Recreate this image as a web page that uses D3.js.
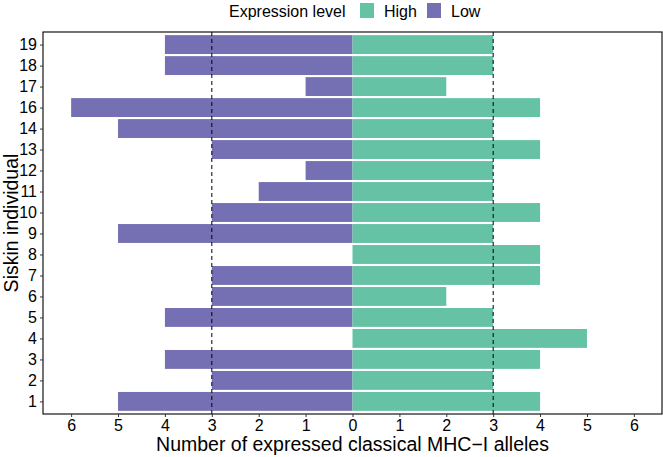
<!DOCTYPE html>
<html><head><meta charset="utf-8">
<script src="https://cdn.jsdelivr.net/npm/d3@7"></script>
<style>body{margin:0;background:#fff;} text{font-family:"Liberation Sans",Arial,sans-serif;}</style>
</head><body>
<svg id="chart" width="663" height="457"></svg>
<script>
const individuals = ["1","2","3","4","5","6","7","8","9","10","11","12","13","14","16","17","18","19"];
const highValues = [4,3,4,5,3,2,4,4,3,4,3,3,4,3,4,2,3,3];
const lowValues  = [5,3,4,0,4,3,3,0,5,3,2,1,3,5,6,1,4,4];
const xTicks = [-6,-5,-4,-3,-2,-1,0,1,2,3,4,5,6];
const refLines = [-3,3];
const seriesNames = ["High","Low"];
const seriesColors = ["#66C2A5","#7570B3"];

const svg = d3.select("#chart");
const L = 43, R = 662, T = 32, B = 414;
const x = d3.scaleLinear().domain([-6.6,6.6]).range([L,R]);
const y = d3.scalePoint().domain(individuals).range([B,T]).padding(0.6);
const step = y.step();
const bh = step*0.9;

const g = svg.append("g");
individuals.forEach((id,i)=>{
  const cy = y(id);
  if (lowValues[i] > 0) g.append("rect").attr("x", x(-lowValues[i])).attr("width", x(0)-x(-lowValues[i]))
    .attr("y", cy-bh/2).attr("height", bh).attr("fill", seriesColors[1]);
  if (highValues[i] > 0) g.append("rect").attr("x", x(0)).attr("width", x(highValues[i])-x(0))
    .attr("y", cy-bh/2).attr("height", bh).attr("fill", seriesColors[0]);
});
refLines.forEach(v=>{
  g.append("line").attr("x1",x(v)).attr("x2",x(v)).attr("y1",T).attr("y2",B)
   .attr("stroke","#000").attr("stroke-width",1).attr("stroke-dasharray","4,3");
});
svg.append("rect").attr("x",L).attr("y",T).attr("width",R-L).attr("height",B-T)
  .attr("fill","none").attr("stroke","#000").attr("stroke-width",1.1);

const xAxis = d3.axisBottom(x).tickValues(xTicks).tickFormat(d=>Math.abs(d)).tickSize(3).tickPadding(3);
const xg = svg.append("g").attr("transform",`translate(0,${B})`).call(xAxis);
xg.select(".domain").remove();
xg.selectAll("line").attr("stroke","#333");
xg.selectAll("text").attr("font-size",16).attr("fill","#000");

const yAxis = d3.axisLeft(y).tickSize(3).tickPadding(3);
const yg = svg.append("g").attr("transform",`translate(${L},0)`).call(yAxis);
yg.select(".domain").remove();
yg.selectAll("line").attr("stroke","#333");
yg.selectAll("text").attr("font-size",16).attr("fill","#000");

svg.append("text").attr("x",(L+R)/2).attr("y",451).attr("text-anchor","middle")
  .attr("font-size",19.5).text("Number of expressed classical MHC\u2212I alleles");
svg.append("text").attr("transform",`translate(18,${(T+B)/2}) rotate(-90)`).attr("text-anchor","middle")
  .attr("font-size",19.5).text("Siskin individual");

const lg = svg.append("g");
lg.append("text").attr("x",229).attr("y",17).attr("font-size",16).text("Expression level");
const keyX = [360, 427];
const labX = [384, 451];
seriesNames.forEach((s,i)=>{
  lg.append("rect").attr("x",keyX[i]).attr("y",3).attr("width",14).attr("height",15).attr("fill",seriesColors[i]);
  lg.append("text").attr("x",labX[i]).attr("y",17).attr("font-size",16).text(s);
});
</script>
</body></html>
